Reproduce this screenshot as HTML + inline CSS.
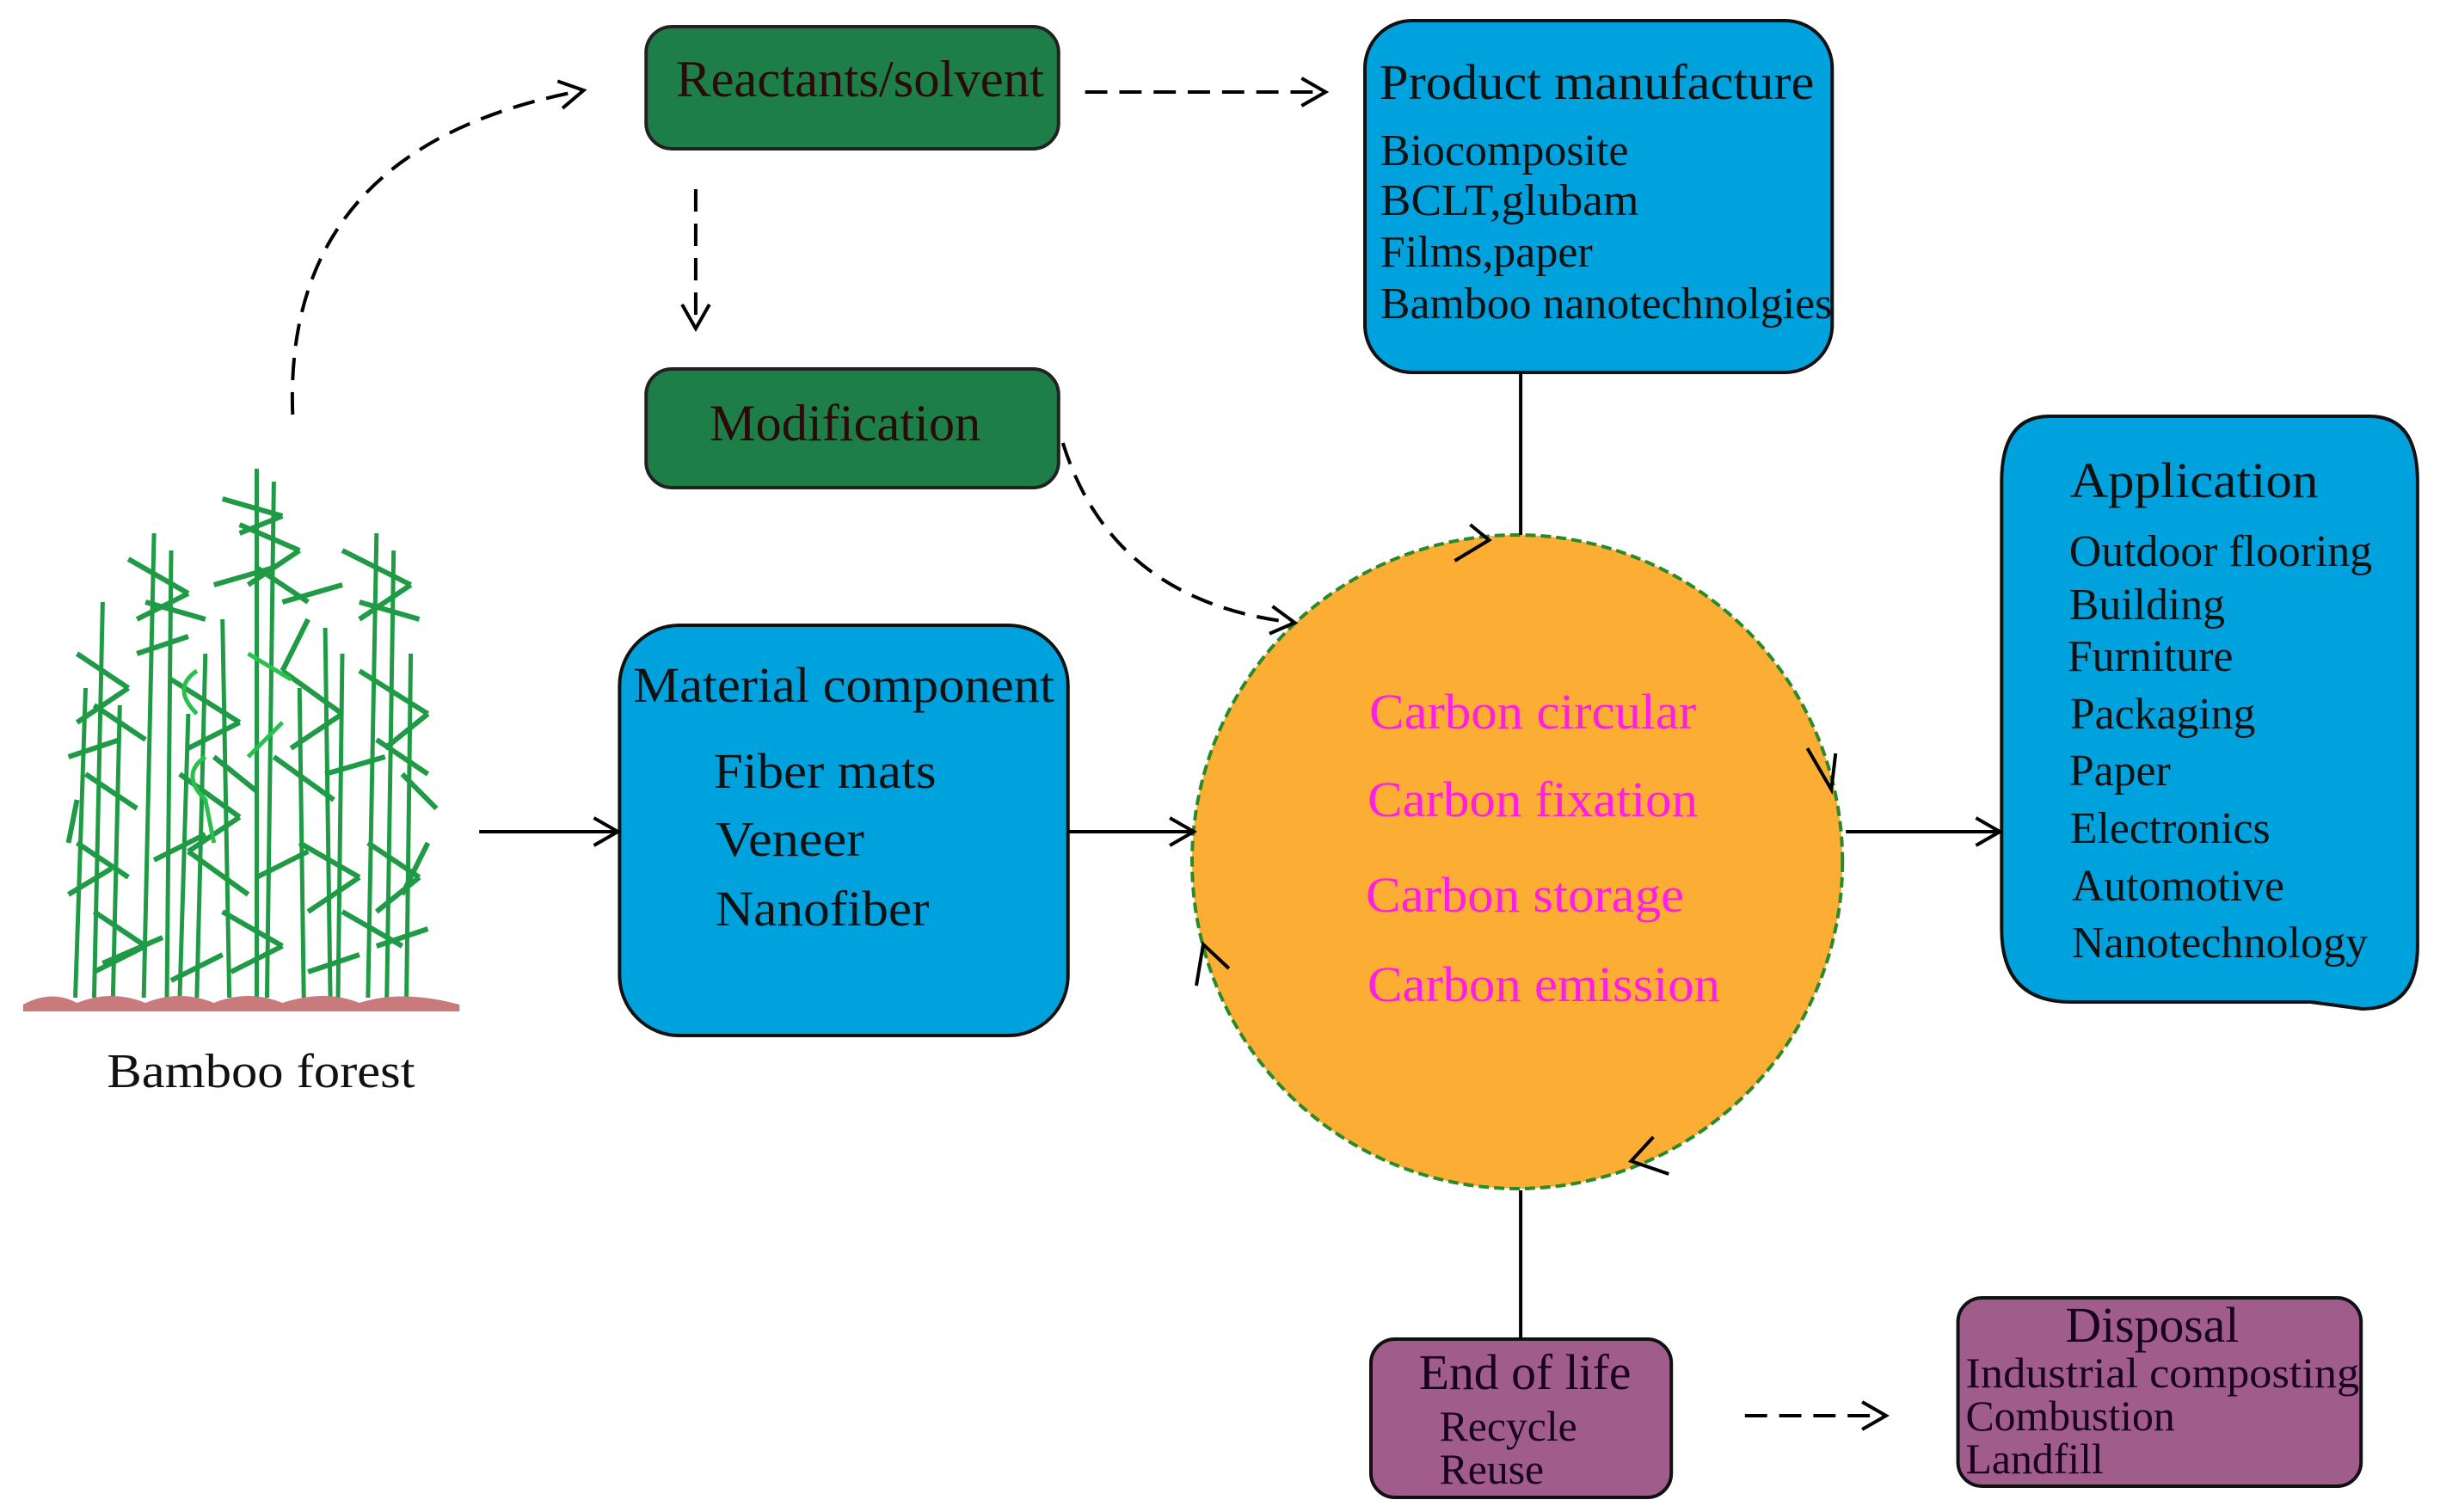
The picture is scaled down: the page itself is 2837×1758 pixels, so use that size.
<!DOCTYPE html>
<html><head><meta charset="utf-8"><style>
body{margin:0;background:#fff}
svg text{font-family:"Liberation Serif",serif}
</style></head><body>
<svg width="2837" height="1753" viewBox="0 0 2837 1753" xmlns="http://www.w3.org/2000/svg">
<defs>
<marker id="a" markerWidth="40" markerHeight="40" refX="30" refY="20" orient="auto" markerUnits="userSpaceOnUse">
<path d="M2,4 L30,20 L2,36" fill="none" stroke="#000" stroke-width="4"/></marker>
</defs>
<g transform="scale(0.995,1)">
<rect x="755" y="31" width="482" height="142" rx="30" fill="#1e7e48" stroke="#222" stroke-width="4"/>
<text x="790" y="112" font-size="60" textLength="430" lengthAdjust="spacingAndGlyphs" fill="#2a0a0a">Reactants/solvent</text>
<rect x="755" y="429" width="482" height="138" rx="30" fill="#1e7e48" stroke="#222" stroke-width="4"/>
<text x="829" y="512" font-size="60" textLength="317" lengthAdjust="spacingAndGlyphs" fill="#2a0a0a">Modification</text>

<rect x="1595" y="24" width="546" height="409" rx="55" fill="#00a2de" stroke="#111" stroke-width="4"/>
<g font-size="52" fill="#111">
<text x="1612" y="115" font-size="58" textLength="508" lengthAdjust="spacingAndGlyphs">Product manufacture</text>
<text x="1613" y="192" textLength="290" lengthAdjust="spacingAndGlyphs">Biocomposite</text>
<text x="1613" y="250" textLength="302" lengthAdjust="spacingAndGlyphs">BCLT,glubam</text>
<text x="1613" y="310" textLength="248" lengthAdjust="spacingAndGlyphs">Films,paper</text>
<text x="1613" y="370" textLength="528" lengthAdjust="spacingAndGlyphs">Bamboo nanotechnolgies</text>
</g>

<rect x="724" y="727" width="524" height="477" rx="70" fill="#00a2de" stroke="#111" stroke-width="4"/>
<g font-size="58" fill="#111">
<text x="740" y="816" textLength="492" lengthAdjust="spacingAndGlyphs">Material component</text>
<text x="834" y="916" textLength="260" lengthAdjust="spacingAndGlyphs">Fiber mats</text>
<text x="836" y="995" textLength="174" lengthAdjust="spacingAndGlyphs">Veneer</text>
<text x="836" y="1076" textLength="250" lengthAdjust="spacingAndGlyphs">Nanofiber</text>
</g>

<ellipse cx="1773" cy="1002" rx="380" ry="380" fill="#fbae33" stroke="#2a8a2a" stroke-width="4" stroke-dasharray="12,6"/>
<g font-size="58" fill="#ff1ee6">
<text x="1600" y="847" textLength="382" lengthAdjust="spacingAndGlyphs">Carbon circular</text>
<text x="1598" y="949" textLength="386" lengthAdjust="spacingAndGlyphs">Carbon fixation</text>
<text x="1596" y="1060" textLength="372" lengthAdjust="spacingAndGlyphs">Carbon storage</text>
<text x="1598" y="1164" textLength="412" lengthAdjust="spacingAndGlyphs">Carbon emission</text>
</g>

<path d="M2395,484 H2769 Q2825,484 2825,560 V1100 Q2825,1173 2760,1173 L2700,1165 H2420 Q2339,1165 2339,1080 V560 Q2339,484 2395,484 Z" fill="#00a2de" stroke="#111" stroke-width="4"/>
<g font-size="52" fill="#111">
<text x="2419" y="578" font-size="58" textLength="290" lengthAdjust="spacingAndGlyphs">Application</text>
<text x="2418" y="658" textLength="354" lengthAdjust="spacingAndGlyphs">Outdoor flooring</text>
<text x="2418" y="720">Building</text>
<text x="2416" y="780">Furniture</text>
<text x="2419" y="847">Packaging</text>
<text x="2418" y="913">Paper</text>
<text x="2419" y="980">Electronics</text>
<text x="2421" y="1047">Automotive</text>
<text x="2421" y="1113" textLength="346" lengthAdjust="spacingAndGlyphs">Nanotechnology</text>
</g>

<rect x="1602" y="1557" width="351" height="184" rx="28" fill="#a05c8a" stroke="#111" stroke-width="4"/>
<g fill="#1a0020">
<text x="1782" y="1615" font-size="58" text-anchor="middle">End of life</text>
<text x="1682" y="1675" font-size="50">Recycle</text>
<text x="1682" y="1725" font-size="50">Reuse</text>
</g>
<rect x="2288" y="1509" width="471" height="219" rx="28" fill="#a05c8a" stroke="#111" stroke-width="4"/>
<g fill="#1a0020" font-size="50">
<text x="2515" y="1560" font-size="58" text-anchor="middle">Disposal</text>
<text x="2297" y="1613" textLength="460" lengthAdjust="spacingAndGlyphs">Industrial composting</text>
<text x="2297" y="1663">Combustion</text>
<text x="2297" y="1713">Landfill</text>
</g>

<g stroke="#000" stroke-width="4" fill="none">
<line x1="560" y1="967" x2="722" y2="967" marker-end="url(#a)"/>
<line x1="1248" y1="967" x2="1395" y2="967" marker-end="url(#a)"/>
<line x1="2157" y1="967" x2="2337" y2="967" marker-end="url(#a)"/>
<line x1="1777" y1="433" x2="1777" y2="622"/>
<line x1="1777" y1="1384" x2="1777" y2="1557"/>
<g stroke-dasharray="26,14">
<line x1="1268" y1="107" x2="1549" y2="107" marker-end="url(#a)"/>
<line x1="813" y1="220" x2="813" y2="382" marker-end="url(#a)"/>
<path d="M342,482 Q330,170 682,105" marker-end="url(#a)"/>
<path d="M1242,515 Q1300,700 1513,724" marker-end="url(#a)"/>
<line x1="2039" y1="1646" x2="2204" y2="1646" marker-end="url(#a)"/>
</g>
<path d="M1700,652 L1740,628 L1718,610"/>
<path d="M2112,870 L2140,918 L2145,876"/>
<path d="M1398,1146 L1406,1098 L1436,1126"/>
<path d="M1950,1365 L1906,1350 L1932,1322"/>
</g>

<g stroke="#1f9a45" stroke-width="5" fill="none">
<path d="M300,545 L300,1160 M320,560 L312,1160 M180,620 L168,1160 M200,640 L195,1160 M440,620 L430,1160 M460,640 L452,1160
M120,700 L110,1160 M240,760 L230,1160 M260,720 L268,1160 M380,730 L386,1160 M400,760 L395,1160 M100,800 L88,1160 M480,760 L475,1160 M140,820 L132,1160 M220,830 L210,1160 M350,800 L355,1160"/>
</g>
<g stroke="#1f9a45" stroke-width="6" fill="none">
<path d="M260,580 L330,600 M280,610 L350,640 M300,660 L360,700 M150,650 L220,690 M170,700 L240,720 M400,640 L480,680 M420,700 L490,720 M90,760 L150,800 M110,820 L170,860 M200,790 L280,840 M330,780 L400,830 M420,780 L500,830 M440,860 L500,900 M100,900 L160,940 M210,900 L280,950 M320,880 L390,930 M90,980 L150,1020 M220,990 L290,1040 M350,980 L420,1020 M430,980 L490,1020 M110,1060 L170,1100 M260,1060 L330,1100 M400,1060 L470,1100"/>
<path d="M330,600 L280,620 M350,640 L290,680 M220,690 L160,720 M480,680 L420,720 M280,840 L220,870 M400,830 L340,870 M500,830 L450,870 M150,800 L90,840 M280,950 L220,990 M420,1020 L360,1060 M490,1020 L440,1060 M170,1100 L110,1130 M330,1100 L270,1130"/>
<path d="M80,880 L140,860 M160,760 L220,740 M250,680 L320,660 M330,700 L400,680 M380,900 L450,880 M470,900 L510,940 M80,1040 L130,1010 M180,1000 L240,970 M300,1020 L360,990 M440,1100 L500,1080 M120,1120 L190,1090 M200,1140 L260,1110 M360,1130 L420,1110 M90,930 L80,980 M500,980 L470,1040 M250,880 L300,920 M360,720 L330,780"/>
</g>
<g stroke="#2bbf4e" stroke-width="5" fill="none">
<path d="M230,780 Q200,800 230,830 M240,880 Q210,900 240,930 L250,980 M290,760 L340,790 M330,840 L290,880"/>
</g>
<path d="M27,1168 Q60,1150 90,1166 Q130,1150 170,1166 Q210,1150 250,1166 Q290,1150 330,1166 Q380,1150 420,1166 Q470,1150 537,1168 L537,1176 L27,1176 Z" fill="#c97a7a"/>
<text x="305" y="1264" font-size="56" text-anchor="middle" fill="#111" textLength="360" lengthAdjust="spacingAndGlyphs">Bamboo forest</text>
</g>
</svg>
</body></html>
